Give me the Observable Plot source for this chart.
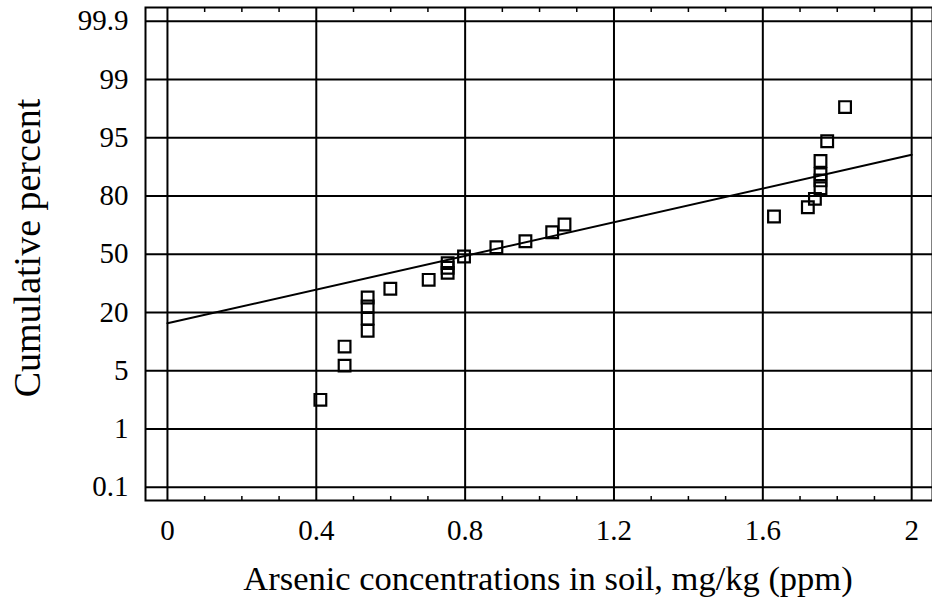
<!DOCTYPE html>
<html>
<head>
<meta charset="utf-8">
<script src="https://cdn.jsdelivr.net/npm/d3@7"></script>
<script src="https://cdn.jsdelivr.net/npm/@observablehq/plot@0.6"></script>
<style>
  html, body { margin: 0; padding: 0; background: #fff; overflow: hidden; }
</style>
</head>
<body>
<div id="chart"></div>
<script>
// Tick labels
const xTicks = [0, 0.4, 0.8, 1.2, 1.6, 2];
const xMinor = [0.1, 0.2, 0.3, 0.5, 0.6, 0.7, 0.9, 1.0, 1.1, 1.3, 1.4, 1.5, 1.7, 1.8, 1.9];
const yTicks = [0.1, 1, 5, 20, 50, 80, 95, 99, 99.9];

// Observations: arsenic concentration (mg/kg) and cumulative percent
const arsenic = [0.411, 0.476, 0.476, 0.538, 0.538, 0.538, 0.538, 0.599, 0.702, 0.753, 0.753, 0.753, 0.797,
                 0.884, 0.962, 1.034, 1.067, 1.630, 1.721, 1.740, 1.755, 1.755, 1.755, 1.755, 1.773, 1.821];
const cumPercent = [3.0, 6.3, 11.2, 15.3, 18.4, 23.1, 27.7, 32.2, 36.8, 40.4, 43.0, 45.4, 48.8,
                    53.6, 56.7, 61.3, 65.3, 69.4, 74.2, 78.5, 82.0, 84.0, 85.6, 89.0, 94.1, 97.1];

// Fitted line endpoints
const fitX = [0, 2];
const fitY = [17.2, 90.6];

const points = arsenic.map((x, i) => ({x, y: cumPercent[i]}));
const fit = fitX.map((x, i) => ({x, y: fitY[i]}));

const W = 932, H = 599;
const mL = 145, mR = 0, mT = 7, mB = 99;
const xDomain = [-0.059, 2.056];
// probability-paper style: labelled percents equally spaced
const yBottom = 486.7, yStep = 58.25;
const yRange = yTicks.map((d, i) => yBottom - i * yStep);

const font = "Liberation Serif, Times New Roman, serif";

const chart = Plot.plot({
  width: W,
  height: H,
  marginLeft: mL,
  marginRight: mR,
  marginTop: mT,
  marginBottom: mB,
  style: {fontFamily: font, fontSize: "29px", color: "#000", background: "#fff"},
  x: {domain: xDomain},
  y: {type: "linear", domain: yTicks, range: yRange},
  marks: [
    Plot.gridX(xTicks, {stroke: "#000", strokeOpacity: 1, strokeWidth: 2}),
    Plot.gridY(yTicks, {stroke: "#000", strokeOpacity: 1, strokeWidth: 2}),
    Plot.frame({stroke: "#000", strokeWidth: 2}),
    Plot.axisX(xTicks, {anchor: "bottom", tickSize: 0, tickPadding: 19, fontSize: 29, label: null,
      tickFormat: d => String(d)}),
    Plot.axisX(xMinor, {anchor: "bottom", tickSize: -4, tickFormat: () => "", label: null, strokeWidth: 1.5}),
    Plot.axisX(xMinor, {anchor: "top", tickSize: -4, tickFormat: () => "", label: null, strokeWidth: 1.5}),
    Plot.axisY(yTicks, {anchor: "left", tickSize: 0, tickPadding: 17, fontSize: 29, label: null,
      tickFormat: d => String(d)}),
    Plot.line(fit, {x: "x", y: "y", stroke: "#000", strokeWidth: 2}),
    Plot.dot(points, {x: "x", y: "y", symbol: "square", r: 6.6, stroke: "#000", strokeWidth: 2.2, fill: "none"}),
    Plot.text(["Cumulative percent"], {frameAnchor: "left", textAnchor: "middle", lineAnchor: "middle",
      rotate: -90, dx: -118, dy: -6, fontSize: 38, fill: "#000"}),
    Plot.text(["Arsenic concentrations in soil, mg/kg (ppm)"], {frameAnchor: "bottom", textAnchor: "middle",
      lineAnchor: "middle", dy: 78, dx: 9, fontSize: 34.5, fill: "#000"})
  ]
});

document.getElementById("chart").appendChild(chart);
</script>
</body>
</html>
